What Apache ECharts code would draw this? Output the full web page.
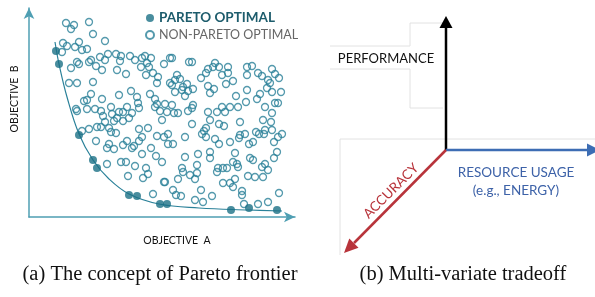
<!DOCTYPE html>
<html>
<head>
<meta charset="utf-8">
<script src="https://cdn.jsdelivr.net/npm/echarts/dist/echarts.min.js"></script>
<style>
  html, body { margin: 0; padding: 0; background: #fff; }
  #chart { width: 595px; height: 297px; }
</style>
</head>
<body>
<div id="chart"></div>
<script>
// objective A grows to the right, objective B grows upward
const otherPoints = [
  [37,194],[45,192],[42,188],[60,195],[64,183],[76,176],[34,174],[38,171],[46,170],[50,175],
  [53,167],[58,168],[33,165],[62,157],[60,155],[48,155],[50,153],[42,149],[67,151],[71,160],
  [76,157],[79,163],[73,147],[87,163],[92,161],[91,156],[88,147],[97,143],[101,161],[106,157],
  [113,159],[116,161],[122,159],[118,154],[112,150],[120,150],[124,144],[129,140],[135,153],[141,159],
  [117,142],[128,134],[40,134],[48,134],[64,135],[62,123],[90,122],[102,126],[108,120],[109,114],
  [121,123],[126,118],[128,113],[73,118],[55,116],[58,117],[47,108],[82,110],
  [143,159],[160,155],[163,155],[148,142],[151,138],[146,137],[141,134],[143,132],[158,133],[154,130],
  [159,126],[164,128],[146,125],[153,127],[156,121],[172,139],[177,144],[179,148],[184,150],[186,154],
  [190,150],[193,142],[199,150],[199,144],[204,136],[197,133],[179,131],[185,128],[181,124],[207,121],
  [218,150],[223,151],[218,142],[229,144],[233,141],[218,127],[231,123],[243,148],[246,143],[250,139],
  [239,137],[241,134],[238,129],[243,125],[252,125],[228,118],[217,115],[249,114],[246,114],[136,113],
  [164,112],[143,112],[193,110],[201,110],[209,110],[236,110],
  [48,106],[58,108],[66,108],[72,106],[74,101],[83,103],[90,105],[94,105],[88,99],[94,96],
  [85,96],[76,95],[100,99],[103,104],[98,110],[110,109],[126,110],[131,106],[138,105],[133,97],
  [53,86],[60,88],[68,90],[72,90],[80,89],[82,85],[87,84],[110,88],[119,89],[113,80],
  [110,76],[105,71],[103,69],[98,76],[94,72],[80,73],[78,69],[85,68],[67,76],[128,81],
  [135,80],[139,83],[122,69],[113,63],[127,61],[133,55],[92,55],[97,55],[78,53],[106,51],
  [117,49],[119,43],[114,39],[99,41],[135,35],[124,23],
  [145,104],[149,104],[159,106],[163,109],[179,105],[188,105],[196,105],[181,97],[211,95],[243,104],
  [234,97],[242,95],[163,93],[190,93],[195,91],[177,89],[175,86],[173,83],[177,80],[156,80],
  [139,73],[144,73],[186,78],[190,73],[201,75],[211,82],[216,83],[210,79],[220,73],[224,75],
  [227,85],[230,83],[235,83],[236,87],[245,75],[249,80],[253,83],[243,87],[206,64],[169,63],
  [156,60],[181,65],[181,59],[221,59],[224,57],[248,65],[245,59],[168,52],[153,49],[154,45],
  [161,42],[168,44],[166,38],[149,38],[189,49],[188,45],[194,49],[198,49],[204,55],[208,53],
  [209,50],[206,38],[201,34],[204,30],[194,34],[219,41],[226,40],[233,50],[236,53],[239,47],
  [234,40],[144,27],[147,22],[152,21],[172,27],[166,17],[174,15],[183,21],[213,26],[213,22],
  [215,13],[229,13],[239,15],[250,24],[136,35]
];
const paretoPoints = [
  [27,166],[30,153],[50,82],[64,57],[68,49],[100,22],[108,21],[131,13],[138,13],[202,7],[220,9],[248,7]
];
// frontier line
const frontierCurve = [
  [26,175],[30,153],[38,120],[50,83],[64,57],[80,38],[100,23],[130,13],[170,9],[220,7],[253,6]
];

const TEAL = '#2a8199';
const TEAL_DARK = '#1c7186';
const AXIS = '#4f9fb3';
const SANS = 'Lato, "Open Sans", sans-serif';
const SERIF = '"Liberation Serif", "DejaVu Serif", serif';

// arrow head polygon from tip, direction and size
function arrowHead(tip, dir, len, half, color) {
  const [dx, dy] = dir;
  const n = Math.hypot(dx, dy);
  const ux = dx / n, uy = dy / n;
  const bx = tip[0] - ux * len, by = tip[1] - uy * len;
  return {
    type: 'polygon',
    shape: { points: [tip, [bx - uy * half, by + ux * half], [bx + uy * half, by - ux * half]] },
    style: { fill: color }
  };
}

function faint(points) {
  return { type: 'polyline', shape: { points }, style: { stroke: '#e2e2e2', lineWidth: 1 }, z: 0 };
}

const chart = echarts.init(document.getElementById('chart'));
chart.setOption({
  animation: false,
  grid: { left: 29, top: 8, width: 266, height: 209 },
  xAxis: {
    type: 'value', min: 0, max: 266,
    axisLine: { lineStyle: { color: AXIS, width: 1.5 }, symbol: ['none', 'arrow'], symbolSize: [8, 11] },
    axisTick: { show: false }, axisLabel: { show: false }, splitLine: { show: false }
  },
  yAxis: {
    type: 'value', min: 0, max: 209,
    axisLine: { lineStyle: { color: AXIS, width: 1.5 }, symbol: ['none', 'arrow'], symbolSize: [8, 11] },
    axisTick: { show: false }, axisLabel: { show: false }, splitLine: { show: false }
  },
  legend: {
    orient: 'vertical', left: 140, top: 6, itemWidth: 8, itemHeight: 8, itemGap: 3,
    data: [
      { name: 'PARETO OPTIMAL', textStyle: { fontWeight: 'bold', color: '#1d5c6c', fontSize: 13.5 } },
      { name: 'NON-PARETO OPTIMAL', textStyle: { color: '#666', fontSize: 12.5 } }
    ],
    textStyle: { fontFamily: SANS, fontSize: 13, lineHeight: 14 }
  },
  series: [
    {
      name: 'frontier', type: 'line', data: frontierCurve, smooth: 0.4, symbol: 'none',
      lineStyle: { color: TEAL, width: 1.2 }, z: 1
    },
    {
      name: 'NON-PARETO OPTIMAL', type: 'scatter', data: otherPoints, symbolSize: 7,
      itemStyle: { color: 'rgba(255,255,255,0)', borderColor: TEAL, borderWidth: 1.3 }, z: 2
    },
    {
      name: 'PARETO OPTIMAL', type: 'scatter', data: paretoPoints, symbolSize: 8,
      itemStyle: { color: TEAL_DARK }, z: 3
    }
  ],
  graphic: [
    { type: 'text', x: 177, y: 241, style: { text: 'OBJECTIVE  A', font: '10.5px ' + SANS, fill: '#111', align: 'center', verticalAlign: 'middle' } },
    { type: 'text', x: 15, y: 99, rotation: Math.PI / 2, style: { text: 'OBJECTIVE  B', font: '10.5px ' + SANS, fill: '#111', align: 'center', verticalAlign: 'middle' } },
    { type: 'text', x: 160, y: 275, style: { text: '(a) The concept of Pareto frontier', font: '20.5px ' + SERIF, fill: '#111', align: 'center', verticalAlign: 'middle' } },
    { type: 'text', x: 463, y: 275, style: { text: '(b) Multi-variate tradeoff', font: '20.5px ' + SERIF, fill: '#111', align: 'center', verticalAlign: 'middle' } },

    // panel (b): leftover text-box outlines
    faint([[410, 46], [410, 23], [443, 23]]),
    faint([[330, 46], [410, 46]]),
    faint([[330, 69], [410, 69], [410, 108], [443, 108]]),
    faint([[340, 255], [340, 139], [595, 139]]),

    { type: 'line', shape: { x1: 446, y1: 150, x2: 446, y2: 27 }, style: { stroke: '#000', lineWidth: 2.5 } },
    arrowHead([446, 16], [0, -1], 12, 6.5, '#000'),
    { type: 'line', shape: { x1: 446, y1: 150, x2: 588, y2: 150 }, style: { stroke: '#3d6db4', lineWidth: 2.5 } },
    arrowHead([600, 150], [1, 0], 13, 6.5, '#3d6db4'),
    { type: 'line', shape: { x1: 446, y1: 150, x2: 354, y2: 243 }, style: { stroke: '#b8343b', lineWidth: 2.5 } },
    arrowHead([344, 253], [-1, 1], 14, 6.5, '#b8343b'),

    { type: 'text', x: 386, y: 59, style: { text: 'PERFORMANCE', font: '13px ' + SANS, fill: '#111', align: 'center', verticalAlign: 'middle' } },
    { type: 'text', x: 516, y: 173, style: { text: 'RESOURCE USAGE', font: '13.5px ' + SANS, fill: '#3d62a8', align: 'center', verticalAlign: 'middle' } },
    { type: 'text', x: 516, y: 191, style: { text: '(e.g., ENERGY)', font: '13.5px ' + SANS, fill: '#3d62a8', align: 'center', verticalAlign: 'middle' } },
    { type: 'text', x: 391, y: 191, rotation: Math.PI / 4, style: { text: 'ACCURACY', font: '13.5px ' + SANS, fill: '#b8343b', align: 'center', verticalAlign: 'middle' } }
  ]
});
</script>
</body>
</html>
